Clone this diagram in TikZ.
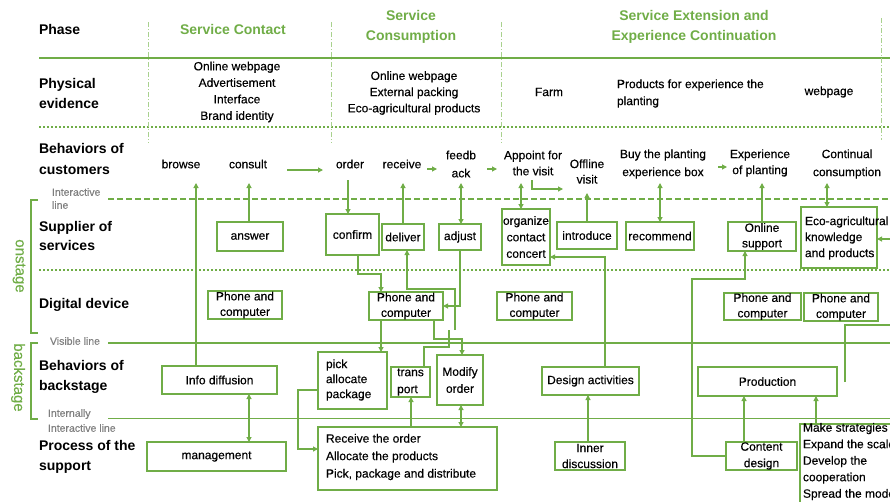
\documentclass[tikz,border=0pt]{standalone}
\usepackage{fontspec}
\setmainfont{Liberation Sans}[UprightFeatures={FakeBold=0.35}]
\usetikzlibrary{calc,arrows.meta}
\definecolor{gr}{HTML}{70AD47}
\definecolor{lgr}{HTML}{A9D18E}
\definecolor{gy}{HTML}{7F7F7F}

\begin{document}
\begin{tikzpicture}[x=1pt,y=-1pt,
  every node/.style={inner sep=0pt, outer sep=0pt},
  rowlbl/.style={anchor=west, align=left, font=\fontsize{14}{20}\selectfont\bfseries},
  phasettl/.style={align=center, text=gr, font=\fontsize{14}{20}\selectfont\bfseries},
  txt/.style={align=center, font=\fontsize{12}{16.5}\selectfont},
  gtxt/.style={anchor=west, align=left, text=gy, font=\fontsize{10.5}{13}\selectfont},
  bx/.style={draw=gr, line width=1.7pt, align=center, font=\fontsize{12}{15.5}\selectfont},
  sepline/.style={draw=gr, line width=1.5pt},
  dotline/.style={draw=gr, line width=1.6pt, dash pattern=on 1.6pt off 2.4pt},
  dashline/.style={draw=gr, line width=1.5pt, dash pattern=on 6pt off 3pt},
  phasesep/.style={draw=lgr, line width=1pt, dash pattern=on 5pt off 2pt on 1pt off 2pt},
  wire/.style={draw=gr, line width=1.1pt},
  conn/.style={wire, -{Triangle[length=5pt,width=5pt]}},
  conn2/.style={wire, {Triangle[length=5pt,width=5pt]}-{Triangle[length=5pt,width=5pt]}},
]
\useasboundingbox (0,0) rectangle (890,501);

% ---- swimlane separators ----
\draw[sepline] (39,58) -- (890,58);
\draw[dotline] (39,127) -- (890,127);
\draw[dashline] (108,199) -- (890,199);
\draw[dotline] (39,270) -- (890,270);
\draw[sepline] (108,343) -- (890,343);
\draw[sepline] (108,418.5) -- (890,418.5);

% ---- phase separators ----
\draw[phasesep] (148,22) -- (148,143);
\draw[phasesep] (331,22) -- (331,143);
\draw[phasesep] (501,22) -- (501,143);
\draw[phasesep] (881,18) -- (881,140);

% ---- onstage / backstage brackets ----
\draw[draw=gr, line width=1.2pt] (38,200) -- (31,200) -- (31,333) -- (38,333);
\draw[draw=gr, line width=1.2pt] (38,343) -- (31,343) -- (31,419) -- (38,419);
\node[rotate=-90, text=gr, font=\fontsize{15}{15}\selectfont] (onst) at (19,266) {onstage};
\node[rotate=-90, text=gr, font=\fontsize{15}{15}\selectfont] (backst) at (18,377.5) {backstage};

% ---- line labels ----
\node[gtxt] (lInter) at (52,198.5) {Interactive\\line};
\node[gtxt] (lVis) at (50,341) {Visible line};
\node[gtxt, font=\fontsize{10.5}{15}\selectfont] (lIntern) at (48,420.5) {Internally\\Interactive line};

% ---- row labels ----
\node[rowlbl] (lPhase) at (39,29) {Phase};
\node[rowlbl] (lPhys) at (39,93) {Physical\\evidence};
\node[rowlbl, font=\fontsize{14}{21}\selectfont\bfseries] (lCust) at (39,158.5) {Behaviors of\\customers};
\node[rowlbl, font=\fontsize{14}{19}\selectfont\bfseries] (lSupp) at (39,236) {Supplier of\\services};
\node[rowlbl] (lDig) at (39,305) {Digital device};
\node[rowlbl] (lBack) at (39,376.7) {Behaviors of\\backstage};
\node[rowlbl] (lProc) at (39,456.7) {Process of the\\support};

% ---- phase titles ----
\node[phasettl] (phContact) at (233,29) {Service Contact};
\node[phasettl] (phConsum) at (411,27) {Service\\Consumption};
\node[phasettl] (phExt) at (694,27) {Service Extension and\\Experience Continuation};

% ---- physical evidence ----
\node[txt] (pe1) at (237,92) {Online webpage\\Advertisement\\Interface\\Brand identity};
\node[txt, font=\fontsize{12}{16.2}\selectfont] (pe2) at (414,93) {Online webpage\\External packing\\Eco-agricultural products};
\node[txt] (pe3) at (549,92) {Farm};
\node[txt, anchor=west, align=left, font=\fontsize{12}{17}\selectfont] (pe4) at (617,93.5) {Products for experience the\\planting};
\node[txt] (pe5) at (829,92) {webpage};

% ---- customer behaviours ----
\node[txt] (browse) at (181,164) {browse};
\node[txt] (consult) at (248,164) {consult};
\node[txt] (order) at (350,164) {order};
\node[txt] (receive) at (402,164) {receive};
\node[txt, font=\fontsize{12}{18}\selectfont] (feed) at (461,164) {feedb\\ack};
\node[txt, font=\fontsize{12}{16}\selectfont] (appoint) at (533,163) {Appoint for\\the visit};
\node[txt, font=\fontsize{12}{15.5}\selectfont] (offline) at (587,171.5) {Offline\\visit};
\node[txt, font=\fontsize{12}{18}\selectfont] (buy) at (663,164) {Buy the planting\\experience box};
\node[txt, font=\fontsize{12}{16}\selectfont] (exper) at (760,163) {Experience\\of planting};
\node[txt, font=\fontsize{12}{18}\selectfont] (cont) at (847,164) {Continual\\consumption};

% ---- supplier of services ----
\node[bx, minimum width=66pt, minimum height=29pt] (answer) at (250,236.5) {answer};
\node[bx, minimum width=53pt, minimum height=41pt] (confirm) at (352.5,234.5) {confirm};
\node[bx, minimum width=42pt, minimum height=26pt] (deliver) at (403,237) {deliver};
\node[bx, minimum width=42pt, minimum height=26pt] (adjust) at (460,237) {adjust};
\node[bx, minimum width=48pt, minimum height=56pt, font=\fontsize{12}{16.5}\selectfont] (organize) at (526,237) {organize\\contact\\concert};
\node[bx, minimum width=60pt, minimum height=27pt] (introduce) at (587,235.5) {introduce};
\node[bx, minimum width=68pt, minimum height=28pt] (recommend) at (660,236) {recommend};
\node[bx, minimum width=68pt, minimum height=29pt] (online) at (762,236.5) {Online\\support};
\node[bx, minimum width=76pt, minimum height=61pt] (eco) at (839,237.5) {};
\node[anchor=west, align=left, font=\fontsize{12}{16}\selectfont] (ecotxt) at (805,238) {Eco-agricultural\\knowledge\\and products};

% ---- digital devices ----
\node[bx, minimum width=74pt, minimum height=28pt] (ph1) at (245,305) {Phone and\\computer};
\node[bx, minimum width=74pt, minimum height=28pt] (ph2) at (406,306) {Phone and\\computer};
\node[bx, minimum width=75pt, minimum height=28pt] (ph3) at (534.5,306) {Phone and\\computer};
\node[bx, minimum width=77pt, minimum height=27pt] (ph4) at (762.5,306.5) {Phone and\\computer};
\node[bx, minimum width=74pt, minimum height=28pt] (ph5) at (841,307) {Phone and\\computer};

% ---- backstage ----
\node[bx, minimum width=115pt, minimum height=28pt] (info) at (219.5,380) {Info diffusion};
\node[bx, minimum width=69pt, minimum height=57pt] (pick) at (352.5,380.5) {};
\node[anchor=west, align=left, font=\fontsize{12}{15}\selectfont] (picktxt) at (326,380) {pick\\allocate\\package};
\node[bx, minimum width=39pt, minimum height=30pt, align=left, font=\fontsize{12}{17}\selectfont] (trans) at (410.5,382) {trans\\port};
\node[bx, minimum width=46pt, minimum height=50pt, font=\fontsize{12}{17}\selectfont] (modify) at (460,380) {Modify\\order};
\node[bx, minimum width=97pt, minimum height=28pt] (design) at (590.5,381) {Design activities};
\node[bx, minimum width=139pt, minimum height=29pt] (prod) at (767.5,381.5) {Production};

% ---- support processes ----
\node[bx, minimum width=139pt, minimum height=29pt] (mgmt) at (216.5,456.5) {management};
\node[bx, minimum width=179pt, minimum height=63pt] (recv) at (407.5,458.5) {};
\node[anchor=west, align=left, font=\fontsize{12}{17.5}\selectfont] (recvtxt) at (326,457) {Receive the order\\Allocate the products\\Pick, package and distribute};
\node[bx, minimum width=70pt, minimum height=28pt, font=\fontsize{12}{16}\selectfont] (inner) at (590,456) {Inner\\discussion};
\node[bx, minimum width=71pt, minimum height=28pt, font=\fontsize{12}{16.5}\selectfont] (content) at (761.5,456) {Content\\design};
\node[draw=gr, line width=1.7pt, minimum width=110pt, minimum height=95pt, anchor=north west] (strat) at (800,424) {};
\node[anchor=north west, align=left, font=\fontsize{12}{16.5}\selectfont] (strattxt) at (803,423) {Make strategies\\Expand the scale\\Develop the\\cooperation\\Spread the mode};

% ---- customer line arrows ----
\draw[conn] ($(consult.center)+(39,6)$) -- ($(order.center)+(-27,6)$);
\draw[conn] ($(receive.center)+(25,5)$) -- ($(feed.center)+(-24,5)$);
\draw[conn] ($(feed.center)+(26,5)$) -- ($(appoint.center)+(-36,6)$);
\draw[conn] ($(appoint.center)+(-1,17)$) |- ($(offline.center)+(-24,17.5)$);
\draw[conn] ($(buy.center)+(55,3)$) -- ($(exper.center)+(-33,4)$);

% ---- interaction links ----
\draw[conn] ($(info.north)+(-23.5,0)$) -- ($(browse.center)+(15,19)$);
\draw[conn] ($(answer.north)+(-1,0)$) -- ($(consult.center)+(1,19)$);
\draw[conn] ($(order.center)+(-2,16)$) -- ($(confirm.north)+(-4.5,0)$);
\draw[conn] (deliver.north) -- ($(receive.center)+(1,19)$);
\draw[conn2] ($(feed.center)+(0,19)$) -- ($(adjust.north)+(1,0)$);
\draw[conn2] ($(appoint.center)+(-12,20)$) -- ($(organize.north)+(-5,0)$);
\draw[conn] (introduce.north) -- ($(offline.center)+(0,21.5)$);
\draw[conn2] ($(buy.center)+(-3,19)$) -- (recommend.north);
\draw[conn] (online.north) -- ($(exper.center)+(2,20)$);
\draw[conn2] ($(cont.center)+(-20,19)$) -- ($(eco.north)+(-12,0)$);

% ---- onstage / backstage flows ----
\draw[conn] ($(confirm.south)+(5.5,0)$) |- ($(ph2.north)+(-25,-18)$) -- ($(ph2.north)+(-25,0)$);
\draw[conn] (adjust.south) |- (ph2.east);
\coordinate (dj) at (455,330);
\draw[conn] (dj) |- ($(deliver.south)+(4,39)$) -- ($(deliver.south)+(4,0)$);
\draw[wire] ($(trans.north)+(13.5,0)$) -- ++(0,-20) -| ($(dj)+(-6,0)$);
\draw[conn] ($(ph2.south)+(-25,0)$) -- ($(pick.north)+(28.5,0)$);
\draw[conn] ($(ph2.south)+(28,0)$) |- ($(modify.north)+(2,-16)$) -- ($(modify.north)+(2,0)$);
\draw[conn] ($(recv.north)+(3.5,0)$) -- ($(trans.south)+(0.5,0)$);
\draw[conn2] ($(modify.south)+(1,0)$) -- ($(recv.north)+(53.5,0)$);
\draw[conn] ($(pick.west)+(0,9.5)$) -- ++(-20,0) |- ($(recv.west)+(0,-9.5)$);
\draw[conn2] ($(info.south)+(29.5,0)$) -- ($(mgmt.north)+(32.5,0)$);
\draw[conn] ($(inner.north)+(-2,0)$) -- ($(design.south)+(-2.5,0)$);
\draw[conn] ($(design.north)+(14.5,0)$) |- ($(organize.east)+(0,20)$);
\draw[conn] (content.west) -- ++(-34,0) |- ($(online.south)+(-17,28)$) -- ($(online.south)+(-17,0)$);
\draw[conn] ($(content.north)+(-17.5,0)$) -- ($(prod.south)+(-23.5,0)$);
\draw[conn] ($(strat.north west)+(16,0)$) -- ($(prod.south)+(48.5,0)$);

% ---- links leaving the right edge ----
\coordinate (rs) at (845,382);
\coordinate (rE) at (890,325);
\draw[wire] (rs) |- (rE);
\coordinate (rE2) at (890,239);
\draw[conn] (rE2) -- (eco.east |- rE2);

\end{tikzpicture}
\end{document}
